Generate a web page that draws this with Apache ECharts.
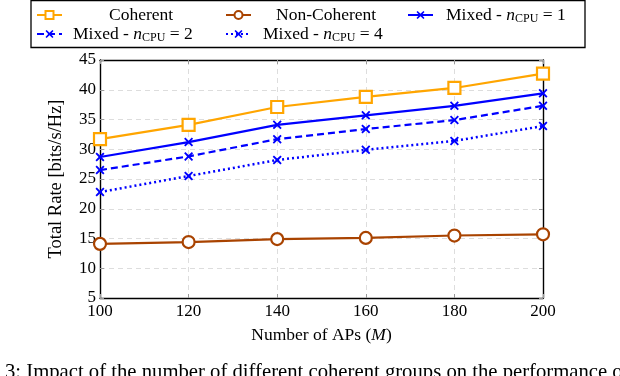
<!DOCTYPE html>
<html><head><meta charset="utf-8">
<script src="https://cdn.jsdelivr.net/npm/echarts@6/dist/echarts.min.js"></script>
<style>html,body{margin:0;padding:0;background:#fff}#c{width:620px;height:376px}</style>
</head><body><div id="c"></div>
<script>
const xValues = [100, 120, 140, 160, 180, 200];
const coherent = [31.7, 34.1, 37.1, 38.8, 40.3, 42.7];
const nonCoherent = [14.1, 14.4, 14.9, 15.1, 15.5, 15.7];
const mixed1 = [28.7, 31.2, 34.1, 35.7, 37.3, 39.4];
const mixed2 = [26.5, 28.8, 31.7, 33.4, 34.9, 37.3];
const mixed4 = [22.8, 25.5, 28.2, 29.9, 31.4, 33.9];
const names = ['Coherent', 'Non-Coherent', 'Mixed1', 'Mixed2', 'Mixed4'];

const FONT = 'Liberation Serif';
const crossPath = 'path://M1.4,0 L5,3.4 L8.6,0 L10,1.4 L6.6,5 L10,8.6 L8.6,10 L5,6.6 L1.4,10 L0,8.6 L3.4,5 L0,1.4 Z';
const pair = arr => arr.map((v, i) => [xValues[i], v]);

const LF = 17.5;
const mathRich = {
  i: {fontFamily: FONT, fontStyle: 'italic', fontSize: LF},
  s: {fontFamily: FONT, fontSize: 12, padding: [7, 0, 0, 0]},
  t: {fontFamily: FONT, fontSize: LF}
};
const fmt = n => {
  if (n.startsWith('Mixed')) return '{t|Mixed - }{i|n}{s|CPU}{t| = ' + n.slice(5) + '}';
  return '{t|' + n + '}';
};
function leg(name, left, top, padLeft) {
  return {
    data: [name], left: left, top: top, itemWidth: 25, itemHeight: 10, padding: 0,
    formatter: fmt,
    textStyle: {fontFamily: FONT, fontSize: LF, color: '#000', padding: [0, 0, 0, padLeft], rich: mathRich}
  };
}

const chart = echarts.init(document.getElementById('c'), null, {renderer: 'canvas'});
const lineSeries = (name, data, color, type, symbol, size, filledWhite, lw) => ({
  name: name, type: 'line', data: pair(data), symbol: symbol, symbolSize: size,
  showSymbol: true,
  lineStyle: {color: color, width: lw || 2.2, type: type},
  itemStyle: filledWhite ? {color: '#fff', borderColor: color, borderWidth: 2.2} : {color: color, borderWidth: 0},
  emphasis: {disabled: true}, animation: false, z: 3
});

const axisBase = {
  axisLine: {show: true, onZero: false, lineStyle: {color: '#000', width: 1.4}},
  axisTick: {inside: true, length: 4, lineStyle: {color: '#999'}},
};

chart.setOption({
  animation: false,
  graphic: [{
    type: 'rect', shape: {x: 31, y: 0.5, width: 554, height: 47},
    style: {fill: 'none', stroke: '#000', lineWidth: 1.3}, z: 0
  }],
  legend: [
    leg('Coherent', 36, 6, 42),
    leg('Non-Coherent', 225, 6, 20),
    leg('Mixed1', 407, 6, 8),
    leg('Mixed2', 36, 25, 6),
    leg('Mixed4', 225, 25, 7)
  ],
  title: {
    text: '3: Impact of the number of different coherent groups on the performance of',
    left: 0, top: 357,
    textStyle: {fontFamily: FONT, fontSize: 20.7, fontWeight: 'normal', color: '#000'}
  },
  grid: {left: 100, right: 77, top: 60, bottom: 78},
  xAxis: [Object.assign({
    type: 'value', min: 100, max: 200, interval: 20, position: 'bottom',
    name: 'Number of APs ({i|M})', nameLocation: 'middle', nameGap: 28,
    nameTextStyle: {fontFamily: FONT, fontSize: 17.5, color: '#000', rich: {i: {fontFamily: FONT, fontStyle: 'italic', fontSize: 17.5}}},
    axisLabel: {fontFamily: FONT, fontSize: 17, color: '#000', margin: 5},
    splitLine: {show: true, lineStyle: {color: '#ddd', type: [5, 4]}}
  }, axisBase), Object.assign({
    type: 'value', min: 100, max: 200, interval: 20, position: 'top',
    axisLabel: {show: false}, splitLine: {show: false}
  }, axisBase)],
  yAxis: [Object.assign({
    type: 'value', min: 5, max: 45, interval: 5, position: 'left',
    name: 'Total Rate [bits/s/Hz]', nameLocation: 'middle', nameGap: 34,
    nameTextStyle: {fontFamily: FONT, fontSize: 18.5, color: '#000'},
    axisLabel: {fontFamily: FONT, fontSize: 17, color: '#000', margin: 4},
    splitLine: {show: true, lineStyle: {color: '#ddd', type: [5, 4]}}
  }, axisBase), Object.assign({
    type: 'value', min: 5, max: 45, interval: 5, position: 'right',
    axisLabel: {show: false}, splitLine: {show: false}
  }, axisBase)],
  series: [
    lineSeries('Coherent', coherent, '#FFA500', 'solid', 'rect', 12, true),
    lineSeries('Non-Coherent', nonCoherent, '#A94300', 'solid', 'circle', 12, true),
    lineSeries('Mixed1', mixed1, '#0000FF', 'solid', crossPath, 9, false),
    lineSeries('Mixed2', mixed2, '#0000FF', [7, 4], crossPath, 9, false),
    lineSeries('Mixed4', mixed4, '#0000FF', [2, 3], crossPath, 9, false, 2.5)
  ]
});
</script></body></html>
